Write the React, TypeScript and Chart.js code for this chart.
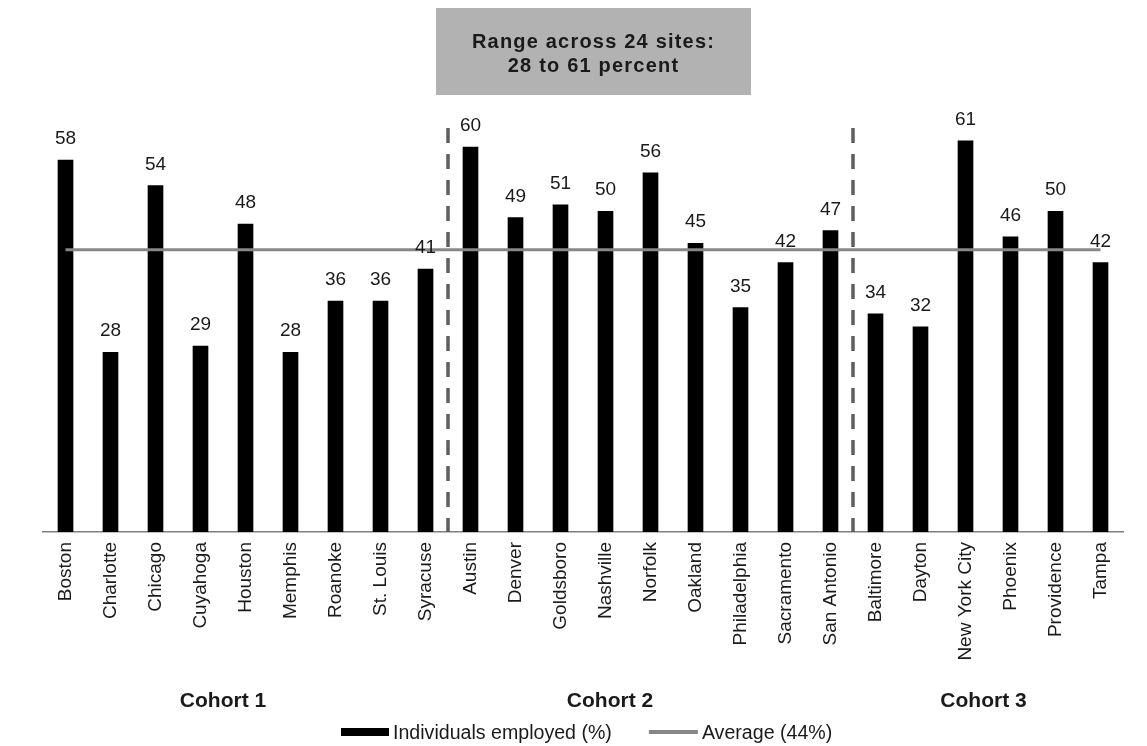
import { useEffect, useRef } from 'react';
import { Chart, registerables } from 'chart.js';

Chart.register(...registerables);

// Sites grouped by cohort, in display order
const sites = [
  'Boston', 'Charlotte', 'Chicago', 'Cuyahoga', 'Houston', 'Memphis', 'Roanoke', 'St. Louis', 'Syracuse',
  'Austin', 'Denver', 'Goldsboro', 'Nashville', 'Norfolk', 'Oakland', 'Philadelphia', 'Sacramento', 'San Antonio',
  'Baltimore', 'Dayton', 'New York City', 'Phoenix', 'Providence', 'Tampa',
];

// Share of individuals employed at each site (%)
const employedPct = [
  58, 28, 54, 29, 48, 28, 36, 36, 41,
  60, 49, 51, 50, 56, 45, 35, 42, 47,
  34, 32, 61, 46, 50, 42,
];

// Cross-site average (%)
const AVERAGE = 44;
const averagePct = [
  44, 44, 44, 44, 44, 44, 44, 44, 44,
  44, 44, 44, 44, 44, 44, 44, 44, 44,
  44, 44, 44, 44, 44, 44,
];

const cohortNames = ['Cohort 1', 'Cohort 2', 'Cohort 3'];
const cohortSizes = [9, 9, 6];

const BAR_LABEL = 'Individuals employed (%)';
const AVG_LABEL = `Average (${AVERAGE}%)`;

const FONT = '"Liberation Sans", Arial, Helvetica, sans-serif';
const TEXT = '#1a1a1a';
const BAR_COLOR = '#000000';
const AVG_COLOR = '#878787';
const DIVIDER_COLOR = '#5e5e5e';

const overlayPlugin = {
  id: 'cohortOverlay',
  beforeDatasetsDraw(chart: any) {
    const { ctx, scales } = chart;
    const x = scales.x;
    const y = scales.y;
    // dashed separators between cohorts
    ctx.save();
    ctx.strokeStyle = DIVIDER_COLOR;
    ctx.lineWidth = 3.5;
    ctx.setLineDash([15, 11]);
    let idx = 0;
    for (let c = 0; c < cohortSizes.length - 1; c++) {
      idx += cohortSizes[c];
      const px = (x.getPixelForValue(idx - 1) + x.getPixelForValue(idx)) / 2;
      ctx.beginPath();
      ctx.moveTo(px, y.getPixelForValue(63));
      ctx.lineTo(px, y.getPixelForValue(0));
      ctx.stroke();
    }
    ctx.restore();
  },
  afterDatasetsDraw(chart: any) {
    const { ctx } = chart;
    const meta = chart.getDatasetMeta(0);
    const values = chart.data.datasets[0].data;
    // value labels above the bars
    ctx.save();
    ctx.font = `19px ${FONT}`;
    ctx.fillStyle = TEXT;
    ctx.textAlign = 'center';
    ctx.textBaseline = 'alphabetic';
    meta.data.forEach((bar: any, i: number) => {
      ctx.fillText(String(values[i]), bar.x, bar.y - 16);
    });
    ctx.restore();
  },
  afterDraw(chart: any) {
    const { ctx, scales } = chart;
    const x = scales.x;

    // range call-out box
    ctx.save();
    const boxW = 315;
    const boxH = 87;
    const boxCx = 593.5;
    const boxTop = 8;
    ctx.fillStyle = '#b2b2b2';
    ctx.fillRect(boxCx - boxW / 2, boxTop, boxW, boxH);
    ctx.fillStyle = TEXT;
    ctx.font = `bold 20px ${FONT}`;
    (ctx as any).letterSpacing = '1.2px';
    ctx.textAlign = 'center';
    ctx.textBaseline = 'alphabetic';
    const lo = Math.min(...employedPct);
    const hi = Math.max(...employedPct);
    ctx.fillText(`Range across ${sites.length} sites:`, boxCx, 48);
    ctx.fillText(`${lo} to ${hi} percent`, boxCx, 72);
    ctx.restore();

    // cohort captions under the site names
    const anchors = [3.5, 12.1, 20.4];
    ctx.save();
    ctx.fillStyle = TEXT;
    ctx.font = `bold 21px ${FONT}`;
    ctx.textAlign = 'center';
    ctx.textBaseline = 'alphabetic';
    cohortNames.forEach((name, i) => {
      ctx.fillText(name, x.getPixelForValue(anchors[i]), 706.5);
    });
    ctx.restore();

    // legend
    const ds = chart.data.datasets;
    ctx.save();
    ctx.font = `19.6px ${FONT}`;
    ctx.fillStyle = TEXT;
    ctx.textAlign = 'left';
    ctx.textBaseline = 'alphabetic';
    let lx = 341;
    const ly = 732;
    ctx.fillStyle = ds[0].backgroundColor;
    ctx.fillRect(lx, ly - 4, 48, 8);
    lx += 48 + 4;
    ctx.fillStyle = TEXT;
    ctx.fillText(ds[0].label, lx, ly + 7.3);
    lx += ctx.measureText(ds[0].label).width + 37;
    ctx.strokeStyle = ds[1].borderColor;
    ctx.lineWidth = 4;
    ctx.beginPath();
    ctx.moveTo(lx, ly);
    ctx.lineTo(lx + 49, ly);
    ctx.stroke();
    lx += 49 + 4;
    ctx.fillText(ds[1].label, lx, ly + 7.3);
    ctx.restore();
  },
};

export default function App() {
  const canvasRef = useRef<HTMLCanvasElement | null>(null);

  useEffect(() => {
    const canvas = canvasRef.current;
    if (!canvas) return;
    const chart = new Chart(canvas, {
      data: {
        labels: sites,
        datasets: [
          {
            type: 'bar',
            label: BAR_LABEL,
            data: employedPct,
            backgroundColor: BAR_COLOR,
            borderWidth: 0,
            barThickness: 15,
            order: 1,
          },
          {
            type: 'line',
            label: AVG_LABEL,
            data: averagePct,
            borderColor: AVG_COLOR,
            backgroundColor: AVG_COLOR,
            borderWidth: 3,
            pointRadius: 0,
            fill: false,
            order: 0,
          },
        ],
      } as any,
      options: {
        responsive: false,
        animation: false,
        layout: { padding: { left: 43, right: 24, top: 83, bottom: 0 } },
        plugins: {
          legend: { display: false },
          tooltip: { enabled: false },
        },
        scales: {
          x: {
            type: 'category',
            grid: { display: false, drawTicks: false },
            border: { display: true, color: '#7f7f7f', width: 1.5 },
            ticks: {
              autoSkip: false,
              minRotation: 90,
              maxRotation: 90,
              padding: 10,
              color: TEXT,
              font: { family: FONT, size: 19 },
            },
            afterFit(scale: any) {
              scale.height = 214;
            },
          },
          y: {
            display: false,
            min: 0,
            max: 70,
          },
        },
      } as any,
      plugins: [overlayPlugin],
    });
    return () => chart.destroy();
  }, []);

  return (
    <div style={{ position: 'absolute', left: 0, top: 0, width: 1147, height: 746, background: '#fff' }}>
      <canvas ref={canvasRef} width={1147} height={746} />
    </div>
  );
}
